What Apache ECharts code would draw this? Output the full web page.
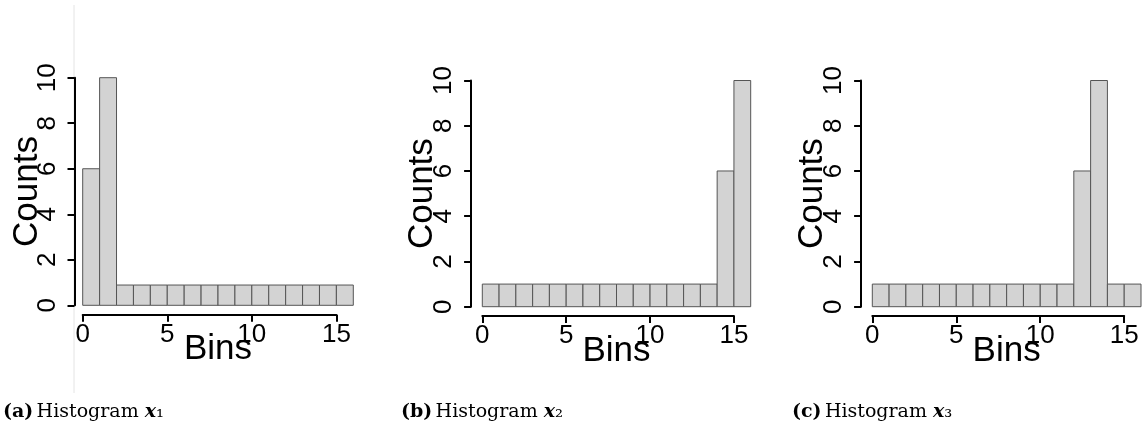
<!DOCTYPE html>
<html>
<head>
<meta charset="utf-8">
<title>Histograms</title>
<script src="https://cdn.jsdelivr.net/npm/echarts@6/dist/echarts.min.js"></script>
<style>
  html, body { margin: 0; padding: 0; background: #fff; }
  #chart { width: 1143px; height: 431px; }
</style>
</head>
<body>
<div id="chart"></div>
<script>
// Bin edges shared by all three histograms
const binEdges = [0, 1, 2, 3, 4, 5, 6, 7, 8, 9, 10, 11, 12, 13, 14, 15, 16];

// Counts per bin
const countsX1 = [6, 10, 0.89, 0.89, 0.89, 0.89, 0.89, 0.89, 0.89, 0.89, 0.89, 0.89, 0.89, 0.89, 0.89, 0.89];
const countsX2 = [1, 1, 1, 1, 1, 1, 1, 1, 1, 1, 1, 1, 1, 1, 6, 10];
const countsX3 = [1, 1, 1, 1, 1, 1, 1, 1, 1, 1, 1, 1, 6, 10, 1, 1];

// Axis ranges and tick steps
const xAxisRange = [0, 15];
const xTickStep = 5;
const yAxisRange = [0, 10];
const yTickStep = 2;

// Caption texts
const captionTags = ['(a)', '(b)', '(c)'];
const captionSubs = ['\u2081', '\u2082', '\u2083'];

// Panel layout (pixels)
const panels = [
  { counts: countsX1, left: 82.7, top: 77.7, width: 270.6, height: 227.6, yOffset: 8.2, xOffset: 9.5, nameGapY: 30, capX: 3 },
  { counts: countsX2, left: 482.3, top: 80.5, width: 268.4, height: 226.2, yOffset: 11.2, xOffset: 9.3, nameGapY: 31, capX: 401 },
  { counts: countsX3, left: 872.3, top: 80.5, width: 268.7, height: 226.2, yOffset: 11.2, xOffset: 9.3, nameGapY: 31, capX: 792 }
];

const sansFont = '"Liberation Sans", Arial, Helvetica, sans-serif';
const serifFont = '"DejaVu Serif", serif';
const axisColor = '#000';

const grid = [];
const xAxis = [];
const yAxis = [];
const series = [];
const graphic = [];

panels.forEach((p, i) => {
  const nBins = binEdges.length - 1;
  const span = binEdges[nBins] - binEdges[0];
  const axisWidth = p.width * (xAxisRange[1] - xAxisRange[0]) / span;

  // grid holding the bars (full bin range)
  grid.push({ left: p.left, top: p.top, width: p.width, height: p.height, containLabel: false });
  // grid carrying the drawn x axis (0..15)
  grid.push({ left: p.left, top: p.top, width: axisWidth, height: p.height, containLabel: false });

  const gBars = 2 * i;
  const gAxis = 2 * i + 1;

  xAxis.push({
    gridIndex: gBars, type: 'value', min: binEdges[0], max: binEdges[nBins],
    axisLine: { show: false, onZero: false }, axisTick: { show: false }, axisLabel: { show: false },
    splitLine: { show: false },
    name: 'Bins', nameLocation: 'middle', nameGap: 27, nameMoveOverlap: false,
    nameTextStyle: { fontFamily: sansFont, fontSize: 35, color: '#000' }
  });
  xAxis.push({
    gridIndex: gAxis, type: 'value', min: xAxisRange[0], max: xAxisRange[1], interval: xTickStep,
    offset: p.xOffset,
    axisLine: { show: true, onZero: false, lineStyle: { color: axisColor, width: 2 } },
    axisTick: { show: true, length: 7, lineStyle: { color: axisColor, width: 2 } },
    axisLabel: { show: true, margin: 7, fontFamily: sansFont, fontSize: 26, color: '#000' },
    splitLine: { show: false }
  });

  yAxis.push({
    gridIndex: gBars, type: 'value', min: yAxisRange[0], max: yAxisRange[1], interval: yTickStep,
    offset: p.yOffset,
    axisLine: { show: true, onZero: false, lineStyle: { color: axisColor, width: 2 } },
    axisTick: { show: true, length: 7, lineStyle: { color: axisColor, width: 2 } },
    axisLabel: { show: true, rotate: 90, margin: 14, fontFamily: sansFont, fontSize: 26, color: '#000' },
    splitLine: { show: false },
    name: 'Counts', nameLocation: 'middle', nameRotate: 90, nameGap: p.nameGapY, nameMoveOverlap: false,
    nameTextStyle: { fontFamily: sansFont, fontSize: 35, color: '#000' }
  });
  yAxis.push({ gridIndex: gAxis, type: 'value', min: yAxisRange[0], max: yAxisRange[1], show: false });

  const data = p.counts.map((c, k) => [binEdges[k], binEdges[k + 1], c]);
  series.push({
    type: 'custom',
    xAxisIndex: gBars,
    yAxisIndex: gBars,
    data: data,
    encode: { x: [0, 1], y: 2 },
    silent: true,
    renderItem: function (params, api) {
      const topLeft = api.coord([api.value(0), api.value(2)]);
      const bottomRight = api.coord([api.value(1), 0]);
      return {
        type: 'rect',
        shape: {
          x: topLeft[0],
          y: topLeft[1],
          width: bottomRight[0] - topLeft[0],
          height: bottomRight[1] - topLeft[1]
        },
        style: { fill: '#d3d3d3', stroke: '#555', lineWidth: 1 }
      };
    }
  });

  // sub-figure caption
  graphic.push({
    type: 'text',
    left: p.capX,
    top: 402,
    style: {
      text: '{tag|' + captionTags[i] + '} {txt|Histogram }{v|x}{sub|' + captionSubs[i] + '}',
      rich: {
        tag: { fontFamily: serifFont, fontWeight: 'bold', fontSize: 19, fill: '#000' },
        txt: { fontFamily: serifFont, fontSize: 19, fill: '#000' },
        v: { fontFamily: serifFont, fontWeight: 'bold', fontStyle: 'italic', fontSize: 19, fill: '#000' },
        sub: { fontFamily: serifFont, fontSize: 20, fill: '#000' }
      }
    }
  });
});

// faint frame rule at the left of the first panel
graphic.push({
  type: 'line',
  shape: { x1: 74, y1: 5, x2: 74, y2: 393 },
  style: { stroke: '#e4e4e4', lineWidth: 1 },
  z: -1
});

const chart = echarts.init(document.getElementById('chart'), null, { renderer: 'canvas' });
chart.setOption({
  backgroundColor: '#ffffff',
  animation: false,
  grid: grid,
  xAxis: xAxis,
  yAxis: yAxis,
  series: series,
  graphic: graphic
});
</script>
</body>
</html>
